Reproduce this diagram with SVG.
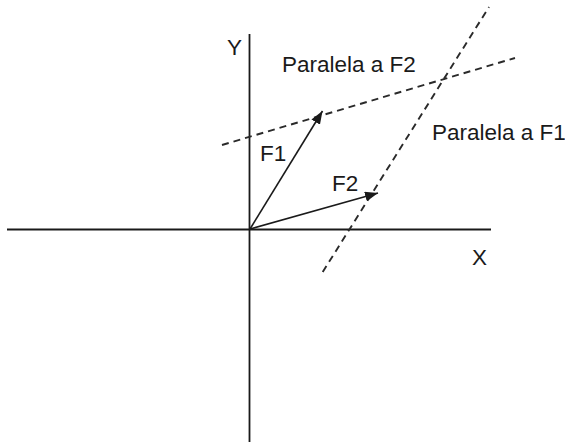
<svg xmlns="http://www.w3.org/2000/svg" width="565" height="442" viewBox="0 0 565 442">
  <style>
    .axis { stroke: #1a1a1a; stroke-width: 1.8; fill: none; }
    .vec { stroke: #1a1a1a; stroke-width: 1.6; fill: none; }
    .dash { stroke: #2a2a2a; stroke-width: 1.9; fill: none; stroke-dasharray: 7 5; }
    text { font-family: "Liberation Sans", Arial, sans-serif; font-size: 22.5px; fill: #1a1a1a; }
  </style>
  <defs>
    <marker id="arrow" markerUnits="userSpaceOnUse" markerWidth="13" markerHeight="10" refX="13" refY="5" orient="auto">
      <path d="M0,0 L13,5 L0,10 z" fill="#1a1a1a"/>
    </marker>
  </defs>
  <rect width="565" height="442" fill="#ffffff"/>
  <g id="connectors">
    <line id="y-axis" class="axis" x1="249.5" y1="34" x2="249.5" y2="442"/>
    <line id="x-axis" class="axis" x1="7" y1="229.5" x2="491" y2="229.5"/>
    <line id="parallel-f2" class="dash" x1="222" y1="145" x2="515" y2="58"/>
    <line id="parallel-f1" class="dash" x1="322.7" y1="272" x2="489" y2="7"/>
    <line id="F1" class="vec" x1="250" y1="229" x2="322.5" y2="111" marker-end="url(#arrow)"/>
    <line id="F2" class="vec" x1="250" y1="229" x2="378" y2="193" marker-end="url(#arrow)"/>
  </g>
  <g id="label-y"><text x="227" y="55">Y</text></g>
  <g id="label-x"><text x="472" y="265">X</text></g>
  <g id="label-f1"><text x="260" y="161">F1</text></g>
  <g id="label-f2"><text x="332" y="191">F2</text></g>
  <g id="label-paralela-f2"><text x="282" y="72">Paralela a F2</text></g>
  <g id="label-paralela-f1"><text x="432" y="140">Paralela a F1</text></g>
</svg>
